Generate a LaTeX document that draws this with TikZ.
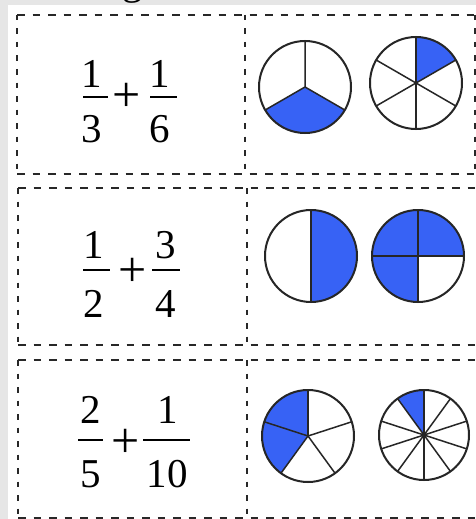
\documentclass[tikz,border=0pt]{standalone}
\usepackage{fontspec}
\setmainfont{Liberation Serif}
\definecolor{fracblue}{RGB}{55,98,245}
\definecolor{bggray}{RGB}{230,230,230}
\definecolor{dashcol}{RGB}{40,40,40}
\tikzset{
  hdash/.style={draw=dashcol, line width=2.2pt, dash pattern=on 7.5pt off 8pt},
  vdash/.style={draw=dashcol, line width=2.2pt, dash pattern=on 5.5pt off 8pt},
  digit/.style={inner sep=0pt, anchor=base, font=\fontsize{41}{41}\selectfont},
  plussign/.style={inner sep=0pt, font=\fontsize{50}{50}\selectfont},
  fracbar/.style={line width=1.8pt, draw=black},
  rim/.style={line width=2pt, draw=black!85},
  divline/.style={line width=1.5pt, draw=black!85},
  sector/.style={fill=fracblue}
}
\begin{document}
\begin{tikzpicture}[x=1pt,y=-1pt]
\useasboundingbox (0,0) rectangle (476,519);
\clip (0,0) rectangle (476,519);
\fill[bggray] (0,0) rectangle (476,519);
\fill[white] (8,5) rectangle (477,520);
% cut-off heading fragment
\node[digit] (head) at (133,-5) {g};

% ---------- panel frames ----------
\draw[hdash] (17,15) -- (475,15);
\draw[hdash] (17,174) -- (475,174);
\draw[vdash] (17,15) -- (17,174);
\draw[vdash] (475,15) -- (475,174);
\draw[vdash] (245,15) -- (245,174);

\draw[hdash] (18,188) -- (480,188);
\draw[hdash] (18,345) -- (480,345);
\draw[vdash] (18,188) -- (18,345);
\draw[vdash] (247,188) -- (247,345);

\draw[hdash] (18,360) -- (480,360);
\draw[hdash] (18,518) -- (480,518);
\draw[vdash] (18,360) -- (18,518);
\draw[vdash] (247,360) -- (247,518);

% ---------- fractions ----------
% 1/3 + 1/6
\node[digit] (n1a) at (92,87) {1};
\draw[fracbar] (83,97) -- (108,97);
\node[digit] (d1a) at (92,142) {3};
\node[plussign] (p1) at (127,97) {+};
\node[digit] (n1b) at (160,87) {1};
\draw[fracbar] (150,97) -- (177,97);
\node[digit] (d1b) at (160,142) {6};

% 1/2 + 3/4
\node[digit] (n2a) at (94,258) {1};
\draw[fracbar] (83,270) -- (110,270);
\node[digit] (d2a) at (94,317) {2};
\node[plussign] (p2) at (133,272) {+};
\node[digit] (n2b) at (166,258) {3};
\draw[fracbar] (152,270) -- (180,270);
\node[digit] (d2b) at (166,317) {4};

% 2/5 + 1/10
\node[digit] (n3a) at (91,423) {2};
\draw[fracbar] (78,440) -- (103,440);
\node[digit] (d3a) at (91,487) {5};
\node[plussign] (p3) at (126,443) {+};
\node[digit] (n3b) at (168,423) {1};
\draw[fracbar] (143,440) -- (190,440);
\node[digit] (d3b) at (167,487) {10};

% ---------- circles ----------
% thirds
\begin{scope}[shift={(305,87)},yscale=-1]
  \fill[sector] (0,0) -- (210:46) arc[start angle=210,end angle=330,radius=46] -- cycle;
  \draw[divline] (0,0) -- (90:46) (0,0) -- (210:46) (0,0) -- (330:46);
  \draw[rim] (0,0) circle[radius=46];
\end{scope}
% sixths
\begin{scope}[shift={(416,83)},yscale=-1]
  \fill[sector] (0,0) -- (30:46) arc[start angle=30,end angle=90,radius=46] -- cycle;
  \foreach \a in {30,90,150,210,270,330} \draw[divline] (0,0) -- (\a:46);
  \draw[rim] (0,0) circle[radius=46];
\end{scope}
% halves
\begin{scope}[shift={(311,256)},yscale=-1]
  \fill[sector] (0,0) -- (-90:46) arc[start angle=-90,end angle=90,radius=46] -- cycle;
  \draw[divline] (0,-46) -- (0,46);
  \draw[rim] (0,0) circle[radius=46];
\end{scope}
% quarters
\begin{scope}[shift={(418,256)},yscale=-1]
  \fill[sector] (0,0) -- (0:46) arc[start angle=0,end angle=270,radius=46] -- cycle;
  \draw[divline] (0,-46) -- (0,46) (-46,0) -- (46,0);
  \draw[rim] (0,0) circle[radius=46];
\end{scope}
% fifths
\begin{scope}[shift={(308,436)},yscale=-1]
  \fill[sector] (0,0) -- (90:46) arc[start angle=90,end angle=234,radius=46] -- cycle;
  \foreach \a in {18,90,162,234,306} \draw[divline] (0,0) -- (\a:46);
  \draw[rim] (0,0) circle[radius=46];
\end{scope}
% tenths
\begin{scope}[shift={(424,435)},yscale=-1]
  \fill[sector] (0,0) -- (90:45) arc[start angle=90,end angle=126,radius=45] -- cycle;
  \foreach \a in {18,54,90,126,162,198,234,270,306,342} \draw[divline] (0,0) -- (\a:45);
  \draw[rim] (0,0) circle[radius=45];
\end{scope}
\end{tikzpicture}
\end{document}
